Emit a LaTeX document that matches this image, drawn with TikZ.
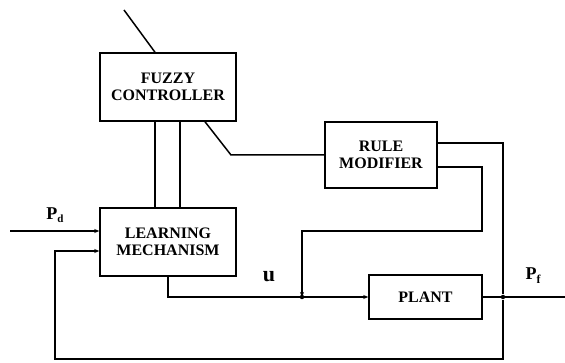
\documentclass[tikz,border=0pt]{standalone}
\usepackage{fontspec}
\setmainfont{Liberation Serif}
\usetikzlibrary{arrows.meta}
\begin{document}
\begin{tikzpicture}[x=1pt,y=-1pt,
  every path/.style={line width=1.5pt},
  blk/.style={draw,line width=1.5pt,rectangle,align=center,inner sep=0pt,
    font=\fontsize{16}{17}\selectfont\bfseries},
  lbl/.style={inner sep=0pt,font=\fontsize{18}{19}\selectfont\bfseries},
  tip/.style={-{Stealth[length=5pt,width=4pt]}},
  dot/.style={circle,fill,inner sep=0pt,minimum size=4.5pt}]
\useasboundingbox (0,0) rectangle (565,363);
\node[blk,minimum width=136pt,minimum height=68pt] (fc) at (168,87) {FUZZY\\CONTROLLER};
\node[blk,minimum width=136pt,minimum height=68pt] (lm) at (168,242) {LEARNING\\MECHANISM};
\node[blk,minimum width=112pt,minimum height=66pt] (rm) at (381,155) {RULE\\MODIFIER};
\node[blk,minimum width=113pt,minimum height=44pt] (pl) at (425.5,297) {PLANT};
\coordinate (t0) at (124,10);
\coordinate (pdin) at (10,231);
\coordinate (pfout) at (565,297);
\node[dot] (j1) at (302,297) {};
\node[dot] (j2) at (503,297) {};
% top input line
\draw (t0) -- ([xshift=-13pt]fc.north);
% two links fuzzy <-> learning
\draw ([xshift=-13pt]fc.south) -- ([xshift=-13pt]lm.north);
\draw ([xshift=12pt]fc.south) -- ([xshift=12pt]lm.north);
% fuzzy to rule modifier
\draw ([xshift=37pt]fc.south) -- (231,155) -- (rm.west);
% rule modifier upper line, feedback loop
\draw[tip] ([yshift=12pt]rm.east) -- (503,143) -- (j2) -- (503,359) -- (55,359) -- (55,251) -- ([yshift=-9pt]lm.west);
% rule modifier lower line to u junction
\draw[tip] ([yshift=-12pt]rm.east) -- (482,167) -- (482,231) -- (302,231) -- (j1.center);
% Pd input
\draw[tip] (pdin) -- ([yshift=11pt]lm.west);
% u signal
\draw[tip] (lm.south) -- (168,297) -- (j1.center) -- (pl.west);
% plant output
\draw (pl.east) -- (j2.center) -- (pfout);
% labels
\node[lbl] (pd) at (55,215) {P\raisebox{-3pt}{\fontsize{11}{12}\selectfont d}};
\node[lbl,font=\fontsize{22}{22}\selectfont\bfseries] (u) at (269,277) {u};
\node[lbl] (pf) at (533,276) {P\raisebox{-4pt}{\fontsize{12}{12}\selectfont f}};
\end{tikzpicture}
\end{document}
